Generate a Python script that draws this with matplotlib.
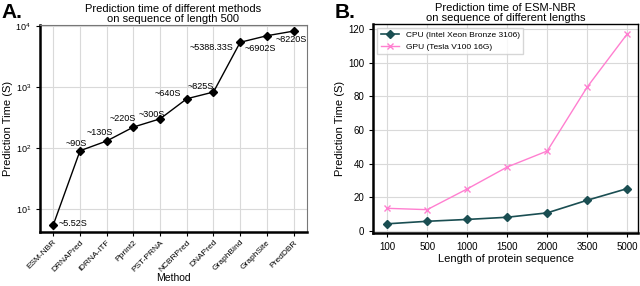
import matplotlib.pyplot as plt
import matplotlib.transforms as mtransforms
import numpy as np

plt.rcParams['font.family'] = ['Liberation Sans', 'DejaVu Sans']

# Panel A data
methods = ['ESM-NBR', 'DRNAPred', 'iDRNA-ITF', 'Pprint2', 'PST-PRNA',
           'NCBRPred', 'DNAPred', 'GraphBind', 'GraphSite', 'PredDBR']
method_times = [5.52, 90, 130, 220, 300, 640, 825, 5388.33, 6902, 8220]
time_labels = ['~5.52S', '~90S', '~130S', '~220S', '~300S', '~640S',
               '~825S', '~5388.33S', '~6902S', '~8220S']
# label offsets in points (dx, dy)
label_offsets = [(4, 1), (-3, 5), (-5, 6), (-8, 6), (-6, 3), (-14, 4),
                 (-9, 4), (-21, -4), (-5, -9), (-2, -6)]

# Panel B data
seq_lengths = ['100', '500', '1000', '1500', '2000', '3500', '5000']
cpu_times = [4.3, 5.8, 6.9, 8.2, 10.8, 18.3, 25.2]
gpu_times = [13.5, 12.7, 25.0, 38.0, 47.5, 85.5, 117.0]

fig = plt.figure(figsize=(6.4, 2.86), dpi=100)
ax1 = fig.add_axes([0.0625, 0.189, 0.417, 0.724])
ax2 = fig.add_axes([0.583, 0.185, 0.414, 0.732])

# ---- Panel A ----
xa = np.arange(len(methods))
ax1.plot(xa, method_times, color='black', marker='D', markersize=4, linewidth=1.0)
ax1.set_yscale('log')
ax1.set_ylim(4.2, 10400)
ax1.set_xlim(-0.5, len(methods) - 0.5)
for i, (lab, off) in enumerate(zip(time_labels, label_offsets)):
    ha = 'left' if i == 0 else 'center'
    ax1.annotate(lab, (xa[i], method_times[i]), xytext=off, textcoords='offset points',
                 ha=ha, va='center', fontsize=6.5)
ax1.set_xticks(xa)
ax1.set_xticklabels(methods, rotation=45, ha='right', rotation_mode='anchor', fontsize=6)
shift = mtransforms.ScaledTranslation(6 / 72, 0, fig.dpi_scale_trans)
for lab in ax1.get_xticklabels():
    lab.set_transform(lab.get_transform() + shift)
ax1.set_yticks([10, 100, 1000, 10000])
ax1.minorticks_off()
ax1.tick_params(axis='y', labelsize=6.5, length=3)
ax1.tick_params(axis='x', length=3, pad=2)
ax1.grid(True, color='#d9d9d9', linewidth=0.8)
ax1.set_axisbelow(True)
ax1.set_xlabel('Method', fontsize=7.5, labelpad=0)
ax1.set_ylabel('Prediction Time (S)', fontsize=8, labelpad=2)
ax1.set_title('Prediction time of different methods\non sequence of length 500',
              fontsize=8, pad=2, linespacing=1.0)
for s in ['left', 'bottom']:
    ax1.spines[s].set_linewidth(1.8)
    ax1.spines[s].set_color('black')
for s in ['top', 'right']:
    ax1.spines[s].set_linewidth(0.8)
    ax1.spines[s].set_color('#777777')

# ---- Panel B ----
xb = np.arange(len(seq_lengths))
ax2.plot(xb, cpu_times, color='#1a4e52', marker='D', markersize=4, linewidth=1.2,
         label='CPU (Intel Xeon Bronze 3106)')
ax2.plot(xb, gpu_times, color='#ff7fd0', marker='x', markersize=4, linewidth=1.0,
         label='GPU (Tesla V100 16G)')
ax2.set_xlim(-0.35, 6.27)
ax2.set_ylim(-1.2, 123)
ax2.set_xticks(xb)
ax2.set_xticklabels(seq_lengths, fontsize=7)
ax2.set_yticks([0, 20, 40, 60, 80, 100, 120])
ax2.tick_params(axis='y', labelsize=7, length=3)
ax2.tick_params(axis='x', length=3)
ax2.grid(True, color='#d9d9d9', linewidth=0.8)
ax2.set_axisbelow(True)
ax2.set_xlabel('Length of protein sequence', fontsize=8, labelpad=1)
ax2.set_ylabel('Prediction Time (S)', fontsize=8, labelpad=2)
ax2.set_title('Prediction time of ESM-NBR\non sequence of different lengths',
              fontsize=8, pad=2, linespacing=1.0)
leg = ax2.legend(loc='upper left', fontsize=6, frameon=True, fancybox=False,
                 edgecolor='#cccccc', borderpad=0.4, handlelength=2.2)
for s in ['left', 'bottom']:
    ax2.spines[s].set_linewidth(1.8)
for s in ['top', 'right']:
    ax2.spines[s].set_linewidth(1.0)

fig.text(0.003, 0.958, 'A.', fontsize=15, fontweight='bold', va='center')
fig.text(0.523, 0.958, 'B.', fontsize=15, fontweight='bold', va='center')

fig.savefig('out.png', dpi=100)
